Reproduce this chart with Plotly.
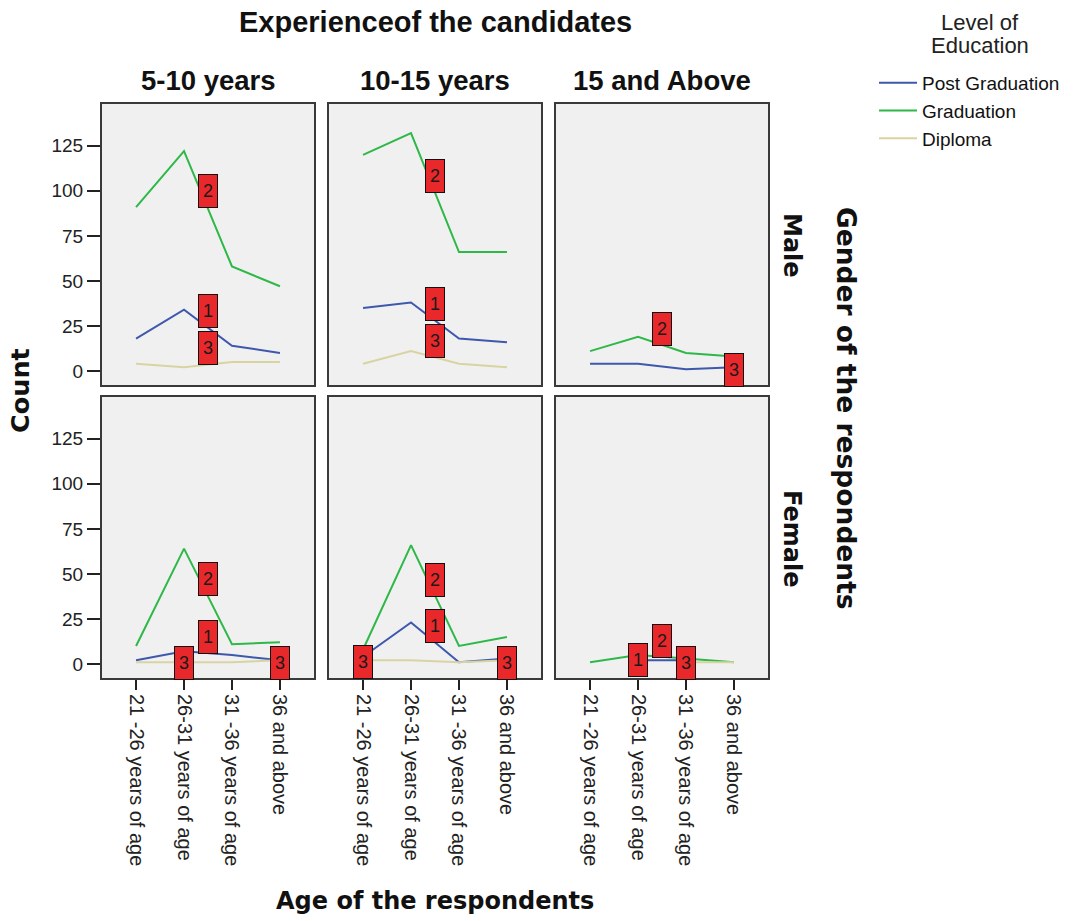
import plotly.graph_objects as go

W, H = 1076, 921

ages = ["21 -26 years of age", "26-31 years of age", "31 -36 years of age", "36 and above"]
experience = ["5-10 years", "10-15 years", "15 and Above"]
genders = ["Male", "Female"]
levels = ["Post Graduation", "Graduation", "Diploma"]

# Counts per panel: [Post Graduation, Graduation, Diploma]
male_5_10 = [[18, 34, 14, 10], [91, 122, 58, 47], [4, 2, 5, 5]]
male_10_15 = [[35, 38, 18, 16], [120, 132, 66, 66], [4, 11, 4, 2]]
male_15_up = [[4, 4, 1, 2], [11, 19, 10, 8], [None, None, None, 0]]
female_5_10 = [[2, 7, 5, 2], [10, 64, 11, 12], [1, 1, 1, 2]]
female_10_15 = [[4, 23, 1, 3], [8, 66, 10, 15], [2, 2, 1, 2]]
female_15_up = [[None, 2, 2, None], [1, 5, 3, 1], [None, None, 1, 1]]

# Line label boxes per panel: (text, x category position, y value)
labels_male_5_10 = [("2", 1.5, 100), ("1", 1.5, 33.5), ("3", 1.5, 12.6)]
labels_male_10_15 = [("2", 1.5, 108.5), ("1", 1.5, 37), ("3", 1.5, 16.5)]
labels_male_15_up = [("2", 1.5, 23.5), ("3", 3, 0.5)]
labels_female_5_10 = [("2", 1.5, 47), ("1", 1.5, 15), ("3", 1, 0.7), ("3", 3, 0.7)]
labels_female_10_15 = [("2", 1.5, 46.5), ("1", 1.5, 21), ("3", 0, 1.3), ("3", 3, 0.7)]
labels_female_15_up = [("1", 1, 2.2), ("2", 1.5, 13), ("3", 2, 0.4)]

y_ticks = [0, 25, 50, 75, 100, 125]

panels = [[male_5_10, male_10_15, male_15_up], [female_5_10, female_10_15, female_15_up]]
panel_labels = [[labels_male_5_10, labels_male_10_15, labels_male_15_up],
                [labels_female_5_10, labels_female_10_15, labels_female_15_up]]

colors = ["#3e58ac", "#2eb848", "#d8d4a2"]


def px_x(p):
    return p / W


def px_y(p):
    return 1 - p / H


col_px = [(102, 314), (329, 541), (556, 768)]
row_px = [(104, 385), (397, 678)]

fig = go.Figure()
layout = {}
annotations = []

SANS = "Liberation Sans, Arial, sans-serif"
DEJA = "DejaVu Sans, Verdana, sans-serif"
TICKFONT = dict(family=SANS, size=19, color="#222222")
XTICKFONT = dict(family=SANS, size=20, color="#222222")

for r in range(2):
    for c in range(3):
        k = r * 3 + c + 1
        sx = "" if k == 1 else str(k)
        data = panels[r][c]
        for i, lev in enumerate(levels):
            fig.add_trace(go.Scatter(
                x=list(range(len(ages))), y=data[i], mode="lines",
                line=dict(color=colors[i], width=2),
                name=lev, showlegend=(k == 1),
                xaxis="x" + sx, yaxis="y" + sx, connectgaps=False,
                hoverinfo="skip"))
        layout["xaxis" + sx] = dict(
            domain=[px_x(col_px[c][0]), px_x(col_px[c][1])],
            anchor="y" + sx, range=[-0.71, 3.71],
            tickmode="array", tickvals=list(range(len(ages))), ticktext=ages,
            showticklabels=(r == 1), ticks="outside" if r == 1 else "",
            ticklen=10, tickwidth=1.5, tickcolor="#222222",
            tickangle=90, tickfont=XTICKFONT,
            showline=True, mirror=True, linecolor="#3a3a3a", linewidth=2,
            showgrid=False, zeroline=False, automargin=False, fixedrange=True)
        layout["yaxis" + sx] = dict(
            domain=[px_y(row_px[r][1]), px_y(row_px[r][0])],
            anchor="x" + sx, range=[-7.8, 148.2],
            tickmode="array", tickvals=y_ticks,
            showticklabels=(c == 0), ticks="outside" if c == 0 else "",
            ticklen=13, tickwidth=1.5, tickcolor="#222222",
            tickfont=TICKFONT,
            showline=True, mirror=True, linecolor="#3a3a3a", linewidth=2,
            showgrid=False, zeroline=False, automargin=False, fixedrange=True)
        for txt, xv, yv in panel_labels[r][c]:
            annotations.append(dict(
                text=txt, x=xv, y=yv, xref="x" + sx, yref="y" + sx,
                xanchor="center", yanchor="middle",
                showarrow=False, bgcolor="#e8282b", bordercolor="#111111",
                borderwidth=1, borderpad=1, width=16, height=30,
                font=dict(family=SANS, size=18, color="#1a1a1a")))


def paper_text(text, x, y, family, size, angle=0, color="#111111"):
    annotations.append(dict(text=text, x=px_x(x), y=px_y(y), xref="paper", yref="paper",
                            xanchor="center", yanchor="middle", showarrow=False,
                            textangle=angle, font=dict(family=family, size=size, color=color)))


paper_text("<b>Experienceof the candidates</b>", 435, 22, SANS, 29)
for c, name in enumerate(experience):
    paper_text("<b>%s</b>" % name, (col_px[c][0] + col_px[c][1]) / 2, 80, SANS, 27.5)
paper_text("<b>Male</b>", 792, 245, DEJA, 24, 90)
paper_text("<b>Female</b>", 792, 538, DEJA, 24, 90)
paper_text("<b>Gender of the respondents</b>", 847, 408, DEJA, 26.5, 90)
paper_text("<b>Count</b>", 20, 391, DEJA, 25.5, -90)
paper_text("<b>Age of the respondents</b>", 435, 901, DEJA, 24)
paper_text("Level of", 980, 22, SANS, 22, 0, "#222222")
paper_text("Education", 980, 45, SANS, 22, 0, "#222222")

fig.update_layout(
    **layout,
    width=W, height=H, autosize=False,
    margin=dict(l=0, r=0, t=0, b=0),
    paper_bgcolor="white", plot_bgcolor="#f0f0f0",
    annotations=annotations,
    showlegend=True,
    legend=dict(
        x=px_x(874), y=px_y(64), xanchor="left", yanchor="top",
        font=dict(family=SANS, size=19, color="#111111"),
        itemwidth=38, tracegroupgap=0,
        bgcolor="rgba(0,0,0,0)", itemclick=False, itemdoubleclick=False),
)

fig.write_html("out.html", config={"displayModeBar": False},
               post_script="document.body.style.margin='0';")
